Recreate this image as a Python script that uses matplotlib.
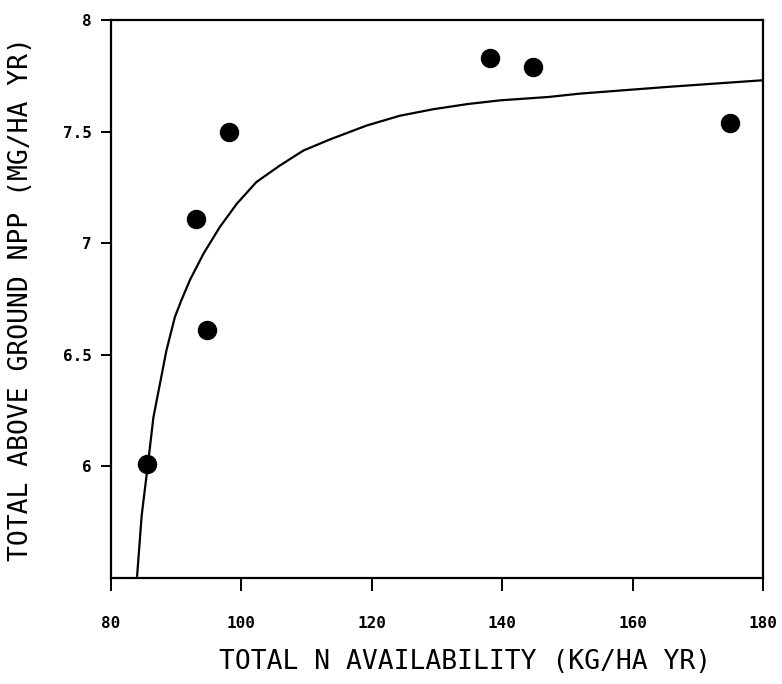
import matplotlib
matplotlib.use("Agg")
import matplotlib.pyplot as plt

# Observed data points
n_avail = [85.5, 93.0, 94.7, 98.1, 138.2, 144.7, 174.9]
npp = [6.01, 7.11, 6.61, 7.50, 7.83, 7.79, 7.54]

# Fitted curve
curve_x = [84.0, 84.7, 85.7, 86.5, 87.5, 88.5, 89.8, 90.8, 92.1, 94.2, 96.7,
           99.3, 102.3, 105.9, 109.5, 113.6, 119.2, 124.3, 129.4, 134.6,
           139.7, 147.1, 151.9, 165.3, 180.0]
curve_y = [5.51, 5.78, 6.02, 6.22, 6.37, 6.52, 6.67, 6.745, 6.835, 6.954,
           7.073, 7.177, 7.274, 7.348, 7.415, 7.465, 7.527, 7.571, 7.60,
           7.623, 7.64, 7.655, 7.67, 7.70, 7.73]

xticks = [80, 100, 120, 140, 160, 180]
xtick_labels = ["80", "100", "120", "140", "160", "180"]
yticks = [6, 6.5, 7, 7.5, 8]
ytick_labels = ["6", "6.5", "7", "7.5", "8"]

fig = plt.figure(figsize=(7.82, 6.84), dpi=100)
ax = fig.add_axes([0.142, 0.155, 0.9757 - 0.142, 0.9708 - 0.155])

ax.plot(curve_x, curve_y, color="black", linewidth=1.6,
        solid_joinstyle="round")
ax.plot(n_avail, npp, linestyle="none", marker="o", markersize=13,
        color="black")

ax.set_xlim(80, 180)
ax.set_ylim(5.5, 8)
ax.set_xticks(xticks)
ax.set_xticklabels(xtick_labels)
ax.set_yticks(yticks)
ax.set_yticklabels(ytick_labels)

for s in ax.spines.values():
    s.set_linewidth(1.6)

ax.tick_params(axis="x", direction="out", length=9.5, width=1.4, pad=18)
ax.tick_params(axis="y", direction="out", length=7, width=1.4, pad=7)
for lab in ax.get_xticklabels() + ax.get_yticklabels():
    lab.set_fontfamily("DejaVu Sans Mono")
    lab.set_fontweight("bold")
    lab.set_fontsize(11.5)

ax.set_xlabel("TOTAL N AVAILABILITY (KG/HA YR)", fontfamily="DejaVu Sans Mono",
              fontsize=19)
ax.xaxis.set_label_coords(0.543, -0.128)
ax.set_ylabel("TOTAL ABOVE GROUND NPP (MG/HA YR)", fontfamily="DejaVu Sans Mono",
              fontsize=19)
ax.yaxis.set_label_coords(-0.118, 0.5)

fig.savefig("out.png", dpi=100)
